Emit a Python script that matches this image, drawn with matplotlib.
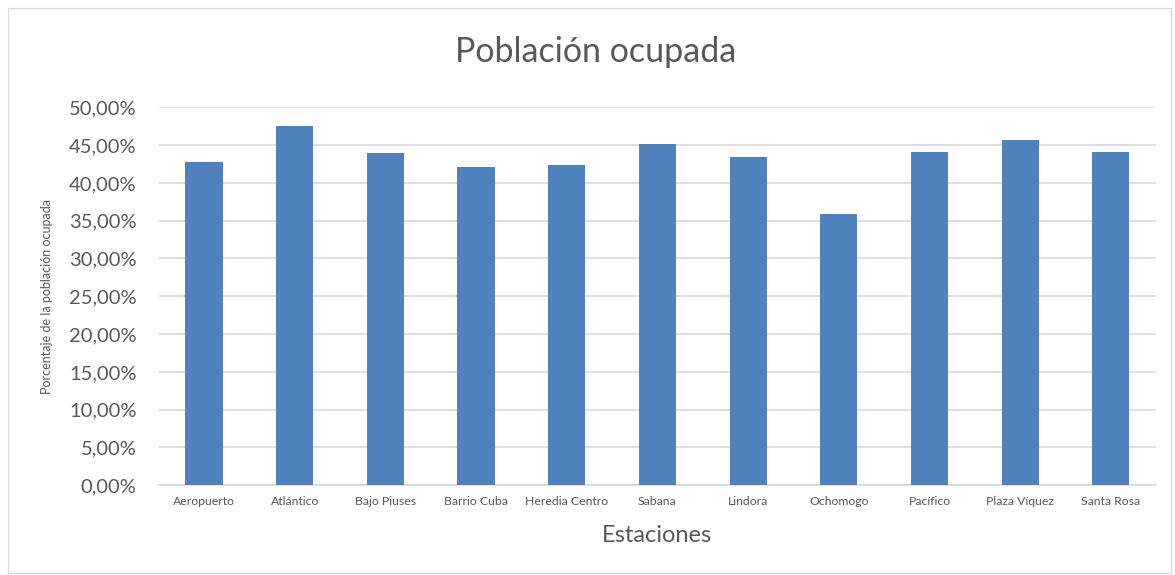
import numpy as np
import matplotlib.pyplot as plt
from matplotlib.patches import Rectangle
from matplotlib.ticker import FuncFormatter

estaciones = ['Aeropuerto', 'Atlántico', 'Bajo Piuses', 'Barrio Cuba', 'Heredia Centro',
              'Sabana', 'Lindora', 'Ochomogo', 'Pacífico', 'Plaza Víquez', 'Santa Rosa']
ocupada = [0.4277, 0.4753, 0.4395, 0.4214, 0.4241, 0.4515, 0.4339, 0.3589, 0.4405, 0.4571, 0.4409]

plt.rcParams['font.family'] = ['Lato', 'DejaVu Sans']
gris = '#595959'

fig = plt.figure(figsize=(11.75, 5.75), dpi=100)
ax = fig.add_axes([0.135, 0.156, 0.849, 0.6574])

x = np.arange(len(estaciones))
ax.bar(x, ocupada, width=0.41, color='#4f81bd', zorder=3)

ax.set_xlim(-0.5, len(estaciones) - 0.5)
ax.set_ylim(0, 0.5)
ax.set_yticks(np.arange(0, 0.501, 0.05))
ax.yaxis.set_major_formatter(FuncFormatter(lambda v, p: ('%.2f%%' % (v * 100)).replace('.', ',')))
ax.set_xticks(x)
ax.set_xticklabels(estaciones)
ax.tick_params(axis='y', length=0, pad=16, labelsize=14.5, labelcolor=gris)
ax.tick_params(axis='x', length=0, pad=8, labelsize=8.8, labelcolor=gris)
ax.grid(axis='y', color='#d9d9d9', linewidth=1.2, zorder=0)
for s in ['top', 'right', 'left']:
    ax.spines[s].set_visible(False)
ax.spines['bottom'].set_color('#d9d9d9')
ax.spines['bottom'].set_linewidth(1.2)

ax.set_ylabel('Porcentaje de la población ocupada', fontsize=9, color=gris)
ax.yaxis.set_label_coords(-0.106, 0.5)
ax.set_xlabel('Estaciones', fontsize=17, color=gris)
ax.xaxis.set_label_coords(0.5, -0.105)

fig.text(0.507, 0.91, 'Población ocupada', ha='center', va='center', fontsize=24.5, color=gris)

fig.patches.append(Rectangle((0.007, 0.004), 0.99, 0.982, transform=fig.transFigure,
                             fill=False, edgecolor='#d9d9d9', linewidth=1))

fig.savefig('out.png', dpi=100)
